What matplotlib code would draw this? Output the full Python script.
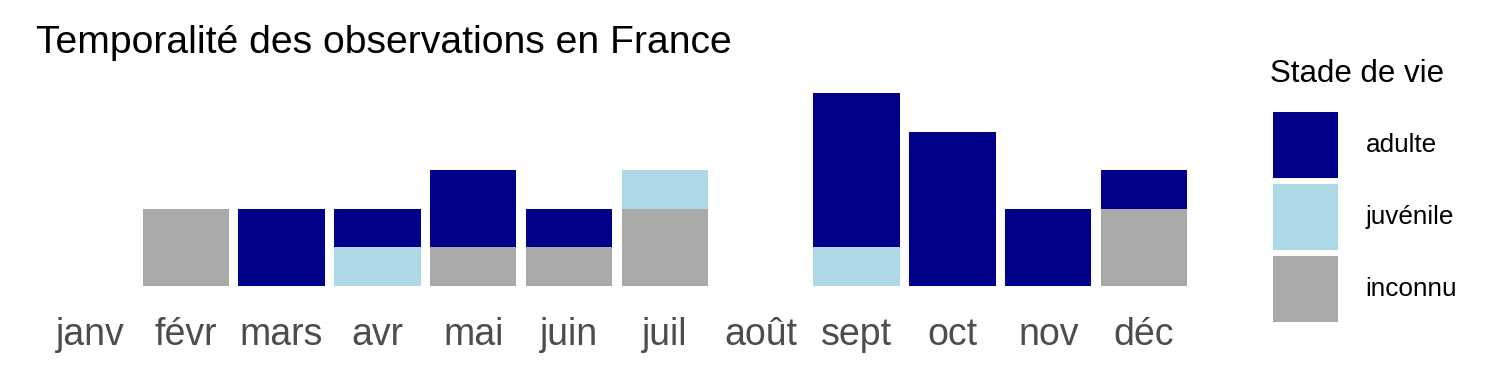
import numpy as np
import matplotlib.pyplot as plt
from matplotlib.patches import Patch

plt.rcParams['font.family'] = ['Liberation Sans', 'DejaVu Sans']

# donnees
mois = ['janv', 'févr', 'mars', 'avr', 'mai', 'juin', 'juil', 'août', 'sept', 'oct', 'nov', 'déc']
inconnu = [0, 2, 0, 0, 1, 1, 2, 0, 0, 0, 0, 2]
juvenile = [0, 0, 0, 1, 0, 0, 1, 0, 1, 0, 0, 0]
adulte = [0, 0, 2, 1, 2, 1, 0, 0, 4, 4, 2, 1]

stades = ['adulte', 'juvénile', 'inconnu']
couleurs = {'adulte': '#00008B', 'juvénile': '#ADD8E6', 'inconnu': '#A9A9A9'}

fig = plt.figure(figsize=(15, 3.75), dpi=100)
ax = fig.add_axes([42 / 1500, 1 - 295.6 / 375, 1150 / 1500, (295.6 - 83.4) / 375])

x = np.arange(len(mois))
inc = np.array(inconnu)
juv = np.array(juvenile)
adu = np.array(adulte)
ax.bar(x, inc, width=0.9, color=couleurs['inconnu'])
ax.bar(x, juv, width=0.9, bottom=inc, color=couleurs['juvénile'])
ax.bar(x, adu, width=0.9, bottom=inc + juv, color=couleurs['adulte'])

ax.set_xlim(-0.5, len(mois) - 0.5)
ax.set_ylim(-0.25, 5.25)
ax.set_xticks(x)
ax.set_xticklabels(mois, fontsize=27, color='#4D4D4D')
ax.tick_params(axis='x', length=0, pad=15.5)
ax.set_yticks([])
for s in ax.spines.values():
    s.set_visible(False)

fig.text(36 / 1500, 1 - 43 / 375, 'Temporalité des observations en France',
         fontsize=28.2, va='center', ha='left')

# legende
fig.text(1270 / 1500, 1 - 74 / 375, 'Stade de vie', fontsize=22.5, va='center', ha='left')
handles = [Patch(facecolor=couleurs[s], edgecolor='none') for s in stades]
leg = fig.legend(handles, stades, loc='upper left', bbox_to_anchor=(1273 / 1500, 1 - 112 / 375),
                 frameon=False, fontsize=18.8,
                 handlelength=2.5, handleheight=3.51, labelspacing=0.23, handletextpad=1.04,
                 borderpad=0, borderaxespad=0)

fig.savefig('out.png', dpi=100)
